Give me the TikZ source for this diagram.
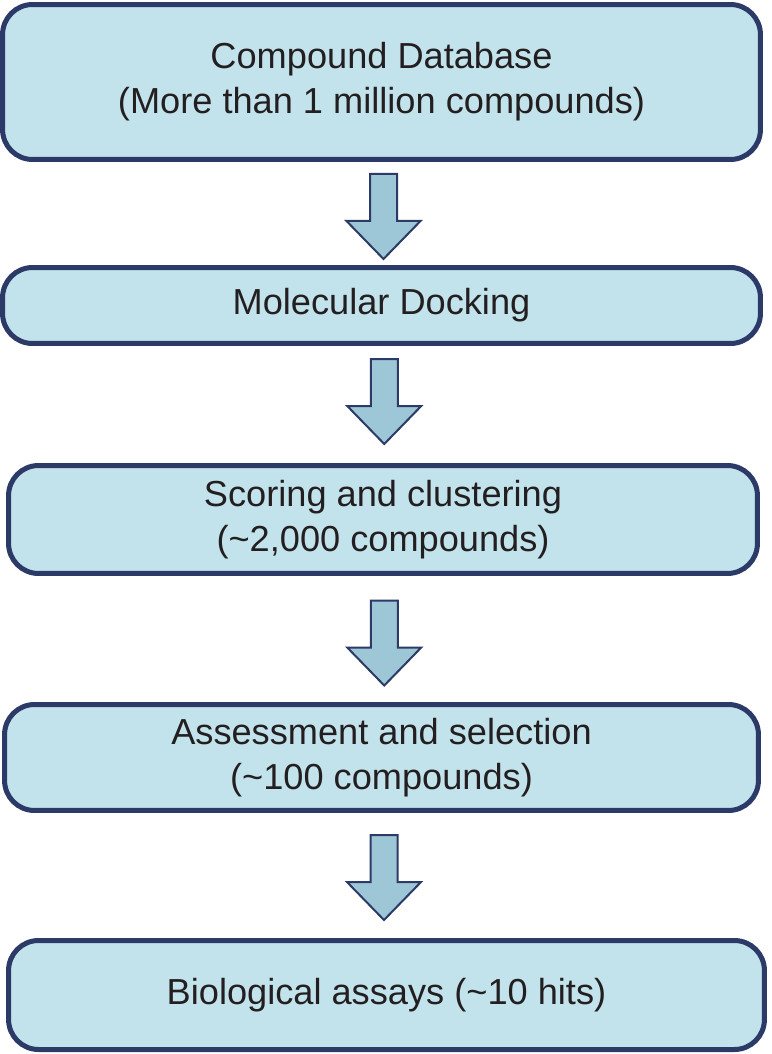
\documentclass[tikz,border=0pt]{standalone}
\usepackage{fontspec}
\setmainfont{Liberation Sans}
\usetikzlibrary{calc}
\definecolor{boxfill}{RGB}{194,227,236}
\definecolor{boxline}{RGB}{44,58,104}
\definecolor{arrowfill}{RGB}{157,199,214}
\definecolor{textcol}{RGB}{35,31,32}
\tikzset{
    stage/.style={draw=boxline,fill=boxfill,line width=0.1cm,rounded corners=0.6cm,
        align=center,inner sep=0pt,text=textcol,font=\fontsize{20.6}{25.5}\selectfont},
    downarrow/.pic={
        \draw[draw=boxline,fill=arrowfill,line width=0.04cm]
            (-13.5,-42.5) -- (13.5,-42.5) -- (13.5,4.5) -- (37,4.5)
            -- (0,42.5) -- (-37,4.5) -- (-13.5,4.5) -- cycle;
    }
}
\begin{document}
\begin{tikzpicture}[x=0.02cm,y=-0.02cm]
        \useasboundingbox (0,0) rectangle (771,1054);
        \node[stage,minimum width=15.16cm,minimum height=3.1cm] (db) at (381.5,82)
            {Compound Database\\(More than 1 million compounds)};
        \node[stage,minimum width=15.16cm,minimum height=1.52cm] (dock) at (381.5,305.5)
            {Molecular Docking};
        \node[stage,minimum width=14.98cm,minimum height=2.16cm] (score) at (383,519.5)
            {Scoring and clustering\\(\textasciitilde2,000 compounds)};
        \node[stage,minimum width=15.08cm,minimum height=2.12cm] (assess) at (381.5,757.5)
            {Assessment and selection\\(\textasciitilde100 compounds)};
        \node[stage,minimum width=15.12cm,minimum height=2.18cm] (assay) at (386.5,995)
            {Biological assays (\textasciitilde10 hits)};
        \pic at ($(db.south)!0.5!(dock.north)+(2,3)$) {downarrow};
        \pic at ($(dock.south)!0.5!(score.north)+(2,-3)$) {downarrow};
        \pic at ($(score.south)!0.5!(assess.north)+(2,4)$) {downarrow};
        \pic at ($(assess.south)!0.5!(assay.north)+(0,2)$) {downarrow};
    \end{tikzpicture}
\end{document}
